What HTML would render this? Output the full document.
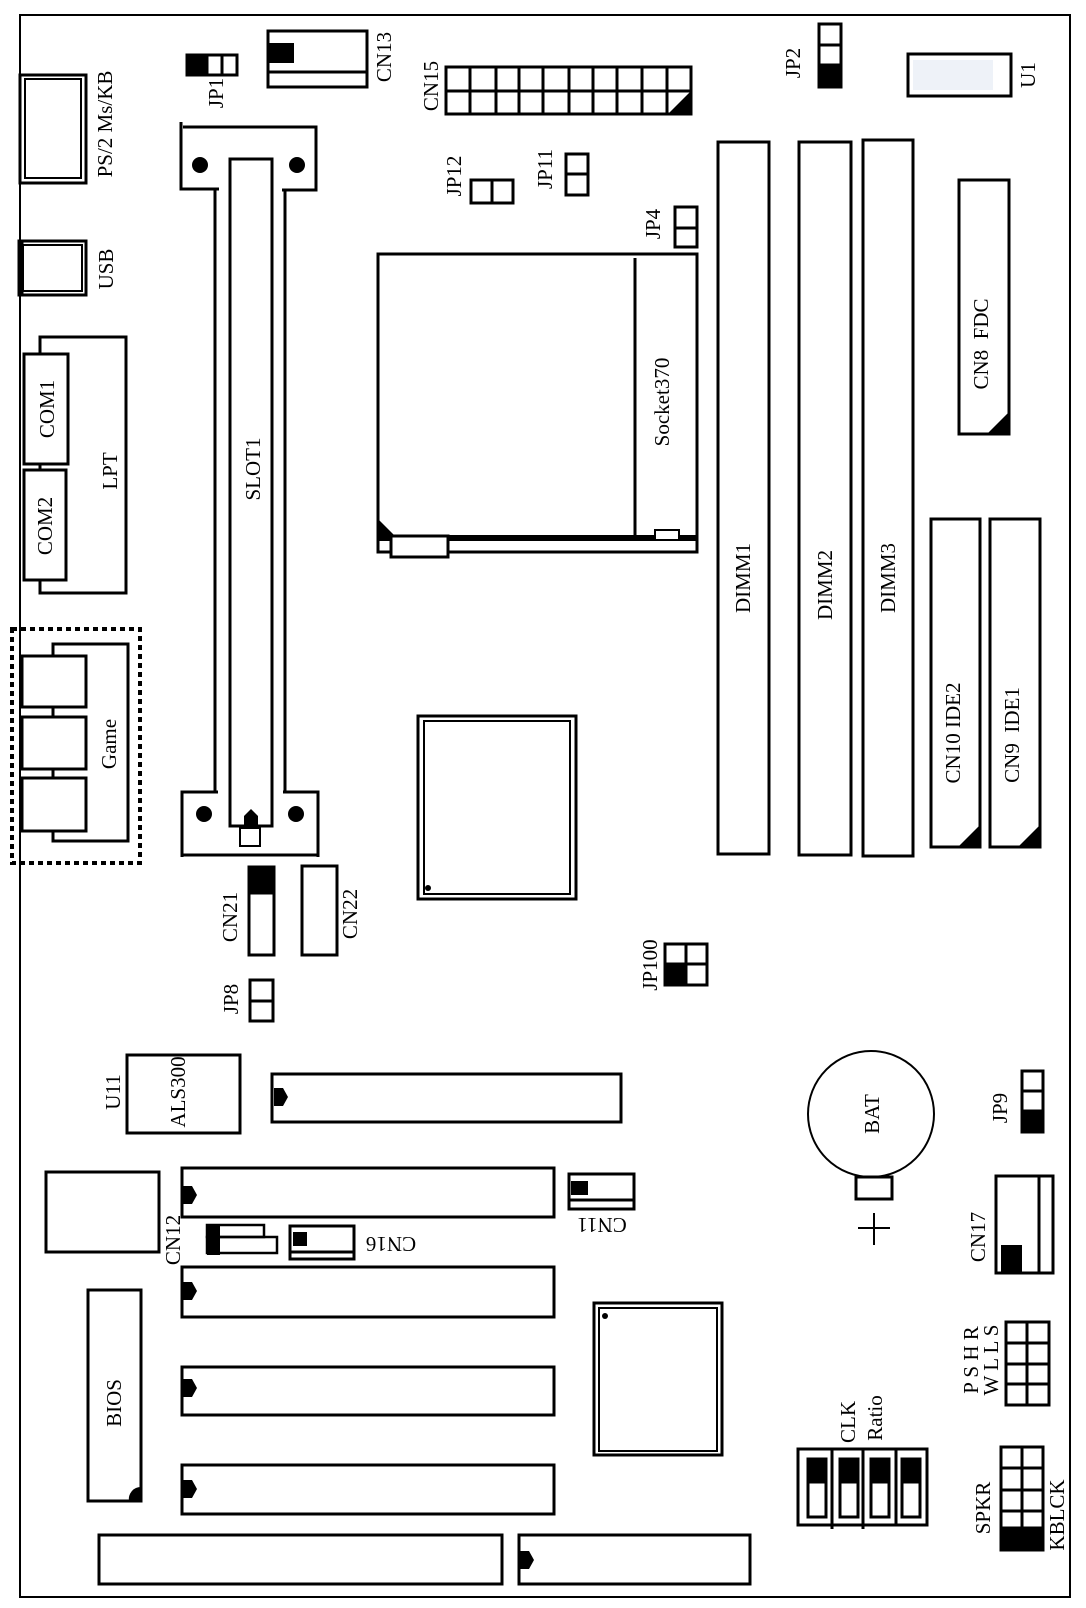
<!DOCTYPE html>
<html><head><meta charset="utf-8"><style>
html,body{margin:0;padding:0;background:#fff;}
svg{display:block;}
text{font-family:"Liberation Serif",serif;font-size:21px;fill:#000;}
</style></head><body>
<svg width="1086" height="1608" viewBox="0 0 1086 1608" xmlns="http://www.w3.org/2000/svg">
<g fill="none" stroke="#000" stroke-width="3">
<!-- board -->
<rect x="20" y="15" width="1050" height="1582" stroke-width="2"/>

<!-- JP1 -->
<rect x="187" y="55" width="50" height="20"/>
<line x1="222" y1="55" x2="222" y2="75"/>
<rect x="187" y="55" width="20" height="20" fill="#000"/>
<!-- CN13 -->
<rect x="268" y="31" width="99" height="56"/>
<line x1="268" y1="72" x2="367" y2="72"/>
<rect x="269" y="43" width="25" height="20" fill="#000" stroke="none"/>
<!-- CN15 -->
<rect x="446" y="67" width="245" height="47"/>
<line x1="446" y1="91" x2="691" y2="91"/>
<line x1="470" y1="67" x2="470" y2="114"/><line x1="496" y1="67" x2="496" y2="114"/>
<line x1="519" y1="67" x2="519" y2="114"/><line x1="543" y1="67" x2="543" y2="114"/>
<line x1="569" y1="67" x2="569" y2="114"/><line x1="593" y1="67" x2="593" y2="114"/>
<line x1="617" y1="67" x2="617" y2="114"/><line x1="642" y1="67" x2="642" y2="114"/>
<line x1="667" y1="67" x2="667" y2="114"/>
<polygon points="691,91 691,114 668,114" fill="#000" stroke="none"/>

<!-- PS/2 -->
<rect x="20" y="75" width="66" height="108"/>
<rect x="25" y="79" width="56" height="99" stroke-width="2"/>
<!-- USB -->
<rect x="19" y="241" width="67" height="54"/>
<rect x="23" y="245" width="59" height="46" stroke-width="2"/>
<line x1="21" y1="241" x2="21" y2="295" stroke-width="5"/>
<!-- LPT -->
<rect x="40" y="337" width="86" height="256"/>
<rect x="24" y="354" width="44" height="110" fill="#fff"/>
<rect x="24" y="470" width="42" height="110" fill="#fff"/>

<!-- Game -->
<rect x="12" y="629" width="128" height="234" stroke-width="4" stroke-dasharray="5,4"/>
<rect x="53" y="644" width="75" height="197"/>
<rect x="22" y="656" width="64" height="51" fill="#fff"/>
<rect x="22" y="717" width="64" height="52" fill="#fff"/>
<rect x="22" y="778" width="64" height="53" fill="#fff"/>

<!-- SLOT1 -->
<polyline points="181,122 181,189 219,189"/>
<polyline points="183,127 316,127 316,190 282,190"/>
<line x1="215" y1="189" x2="215" y2="792"/>
<line x1="285" y1="190" x2="285" y2="792"/>
<rect x="230" y="159" width="42" height="667"/>
<polyline points="218,792 182,792 182,857"/>
<polyline points="283,792 318,792 318,857"/>
<line x1="182" y1="855" x2="318" y2="855"/>
<rect x="240" y="828" width="20" height="18" stroke-width="2"/>
<polygon points="244,826 244,816 251,809 258,816 258,826" fill="#000" stroke="none"/>
<circle cx="200" cy="165" r="8" fill="#000" stroke="none"/>
<circle cx="297" cy="165" r="8" fill="#000" stroke="none"/>
<circle cx="204" cy="814" r="8" fill="#000" stroke="none"/>
<circle cx="296" cy="814" r="8" fill="#000" stroke="none"/>

<!-- JP12, JP11, JP4, JP2 -->
<rect x="471" y="180" width="42" height="23"/><line x1="492" y1="180" x2="492" y2="203"/>
<rect x="566" y="154" width="22" height="41"/><line x1="566" y1="174" x2="588" y2="174"/>
<rect x="675" y="207" width="22" height="40"/><line x1="675" y1="228" x2="697" y2="228"/>
<rect x="819" y="24" width="22" height="63"/><line x1="819" y1="45" x2="841" y2="45"/>
<rect x="819" y="65" width="22" height="22" fill="#000"/>
<!-- U1 -->
<rect x="908" y="54" width="103" height="42"/>
<rect x="913" y="60" width="80" height="30" fill="#eef2f8" stroke="none"/>

<!-- CPU socket -->
<rect x="378" y="254" width="319" height="298"/>
<line x1="635" y1="258" x2="635" y2="538"/>
<rect x="378" y="535" width="319" height="6" fill="#000" stroke="none"/>
<rect x="391" y="536" width="57" height="21" fill="#fff"/>
<rect x="655" y="530" width="24" height="10" fill="#fff" stroke-width="2"/>
<polygon points="378,519 395,536 378,536" fill="#000" stroke="none"/>

<!-- DIMMs -->
<rect x="718" y="142" width="51" height="712"/>
<rect x="799" y="142" width="52" height="713"/>
<rect x="863" y="140" width="50" height="716"/>
<!-- CN8 -->
<rect x="959" y="180" width="50" height="254"/>
<polygon points="1009,412 1009,434 987,434" fill="#000" stroke="none"/>
<!-- IDE -->
<rect x="931" y="519" width="49" height="328"/>
<polygon points="980,825 980,847 958,847" fill="#000" stroke="none"/>
<rect x="990" y="519" width="50" height="328"/>
<polygon points="1040,825 1040,847 1018,847" fill="#000" stroke="none"/>

<!-- Northbridge -->
<rect x="418" y="716" width="158" height="183"/>
<rect x="424" y="721" width="146" height="173" stroke-width="2"/>
<circle cx="428" cy="888" r="3" fill="#000" stroke="none"/>

<!-- CN21 CN22 JP8 -->
<rect x="249" y="867" width="25" height="88"/>
<rect x="249" y="867" width="25" height="26" fill="#000"/>
<rect x="302" y="866" width="35" height="89"/>
<rect x="250" y="980" width="23" height="41"/><line x1="250" y1="1001" x2="273" y2="1001"/>

<!-- JP100 -->
<rect x="665" y="944" width="42" height="41"/>
<line x1="686" y1="944" x2="686" y2="985"/><line x1="665" y1="964" x2="707" y2="964"/>
<rect x="665" y="964" width="21" height="21" fill="#000"/>

<!-- ALS300, chip -->
<rect x="127" y="1055" width="113" height="78"/>
<rect x="46" y="1172" width="113" height="80"/>

<!-- AGP slot -->
<rect x="272" y="1074" width="349" height="48"/>
<!-- PCI slots -->
<rect x="182" y="1168" width="372" height="49"/>
<rect x="182" y="1267" width="372" height="50"/>
<rect x="182" y="1367" width="372" height="48"/>
<rect x="182" y="1465" width="372" height="49"/>
<!-- ISA -->
<rect x="99" y="1535" width="403" height="49"/>
<rect x="519" y="1535" width="231" height="49"/>
</g>
<!-- keys -->
<g fill="#000">
<polygon points="274,1088 283,1088 288,1097 283,1106 274,1106"/>
<polygon points="183,1186 192,1186 197,1195 192,1204 183,1204"/>
<polygon points="183,1282 192,1282 197,1291 192,1300 183,1300"/>
<polygon points="183,1379 192,1379 197,1388 192,1397 183,1397"/>
<polygon points="183,1480 192,1480 197,1489 192,1498 183,1498"/>
<polygon points="520,1551 529,1551 534,1560 529,1569 520,1569"/>
</g>

<g fill="none" stroke="#000" stroke-width="3">
<!-- CN12 -->
<rect x="207" y="1225" width="57" height="12" stroke-width="2.5"/>
<rect x="207" y="1237" width="70" height="16" stroke-width="2.5"/>
<rect x="207" y="1224" width="13" height="31" fill="#000" stroke="none"/>
<!-- CN16 -->
<rect x="290" y="1226" width="64" height="33"/>
<line x1="290" y1="1252" x2="354" y2="1252"/>
<rect x="293" y="1232" width="14" height="14" fill="#000" stroke="none"/>
<!-- CN11 -->
<rect x="569" y="1174" width="65" height="35"/>
<line x1="569" y1="1200" x2="634" y2="1200"/>
<rect x="571" y="1181" width="17" height="14" fill="#000" stroke="none"/>

<!-- BIOS -->
<rect x="88" y="1290" width="53" height="211"/>
<path d="M141,1487 A12,12 0 0 0 129,1501 L141,1501 Z" fill="#000" stroke="none"/>

<!-- Southbridge -->
<rect x="594" y="1303" width="128" height="152"/>
<rect x="599" y="1308" width="118" height="143" stroke-width="2"/>
<circle cx="605" cy="1316" r="3" fill="#000" stroke="none"/>

<!-- BAT -->
<circle cx="871" cy="1114" r="63" stroke-width="2"/>
<rect x="856" y="1177" width="36" height="22" fill="#fff"/>
<line x1="858" y1="1228" x2="890" y2="1228" stroke-width="2"/>
<line x1="874" y1="1213" x2="874" y2="1245" stroke-width="2"/>

<!-- JP9 -->
<rect x="1022" y="1071" width="21" height="61"/>
<line x1="1022" y1="1091" x2="1043" y2="1091"/>
<rect x="1022" y="1111" width="21" height="21" fill="#000"/>

<!-- CN17 -->
<rect x="996" y="1176" width="57" height="97"/>
<line x1="1039" y1="1176" x2="1039" y2="1273"/>
<rect x="1001" y="1245" width="21" height="27" fill="#000" stroke="none"/>

<!-- PW header -->
<rect x="1006" y="1322" width="43" height="83"/>
<line x1="1027" y1="1322" x2="1027" y2="1405"/>
<line x1="1006" y1="1343" x2="1049" y2="1343"/>
<line x1="1006" y1="1364" x2="1049" y2="1364"/>
<line x1="1006" y1="1384" x2="1049" y2="1384"/>

<!-- DIP CLK/Ratio -->
<rect x="798" y="1449" width="129" height="76"/>
<line x1="832" y1="1449" x2="832" y2="1529"/>
<line x1="863" y1="1449" x2="863" y2="1529"/>
<line x1="896" y1="1449" x2="896" y2="1525"/>
<rect x="808" y="1459" width="18" height="58"/><rect x="808" y="1459" width="18" height="23" fill="#000"/>
<rect x="840" y="1459" width="18" height="58"/><rect x="840" y="1459" width="18" height="23" fill="#000"/>
<rect x="871" y="1459" width="18" height="58"/><rect x="871" y="1459" width="18" height="23" fill="#000"/>
<rect x="902" y="1459" width="18" height="58"/><rect x="902" y="1459" width="18" height="23" fill="#000"/>

<!-- SPKR header -->
<rect x="1001" y="1447" width="42" height="103"/>
<line x1="1022" y1="1447" x2="1022" y2="1550"/>
<line x1="1001" y1="1468" x2="1043" y2="1468"/>
<line x1="1001" y1="1490" x2="1043" y2="1490"/>
<line x1="1001" y1="1511" x2="1043" y2="1511"/>
<rect x="1001" y="1528" width="42" height="22" fill="#000"/>
</g>

<!-- labels -->
<g text-anchor="middle" dominant-baseline="central">
<text transform="translate(216,93) rotate(-90)">JP1</text>
<text transform="translate(384,57) rotate(-90)">CN13</text>
<text transform="translate(431,86) rotate(-90)">CN15</text>
<text transform="translate(105,124) rotate(-90)">PS/2 Ms/KB</text>
<text transform="translate(106,269) rotate(-90)">USB</text>
<text transform="translate(47,409) rotate(-90)">COM1</text>
<text transform="translate(45,526) rotate(-90)">COM2</text>
<text transform="translate(110,471) rotate(-90)">LPT</text>
<text transform="translate(253,469) rotate(-90)">SLOT1</text>
<text transform="translate(109,744) rotate(-90)">Game</text>
<text transform="translate(454,176) rotate(-90)">JP12</text>
<text transform="translate(545,169) rotate(-90)">JP11</text>
<text transform="translate(653,224) rotate(-90)">JP4</text>
<text transform="translate(793,63) rotate(-90)">JP2</text>
<text transform="translate(1028,75) rotate(-90)">U1</text>
<text transform="translate(662,402) rotate(-90)">Socket370</text>
<text transform="translate(743,578) rotate(-90)">DIMM1</text>
<text transform="translate(825,585) rotate(-90)">DIMM2</text>
<text transform="translate(888,578) rotate(-90)">DIMM3</text>
<text transform="translate(981,344) rotate(-90)" xml:space="preserve">CN8  FDC</text>
<text transform="translate(953,733) rotate(-90)">CN10 IDE2</text>
<text transform="translate(1012,735) rotate(-90)" xml:space="preserve">CN9  IDE1</text>
<text transform="translate(230,917) rotate(-90)">CN21</text>
<text transform="translate(350,914) rotate(-90)">CN22</text>
<text transform="translate(231,999) rotate(-90)">JP8</text>
<text transform="translate(650,965) rotate(-90)">JP100</text>
<text transform="translate(113,1092) rotate(-90)">U11</text>
<text transform="translate(178,1092) rotate(-90)">ALS300</text>
<text transform="translate(872,1114) rotate(-90)">BAT</text>
<text transform="translate(1000,1108) rotate(-90)">JP9</text>
<text transform="translate(173,1240) rotate(-90)">CN12</text>
<text transform="translate(391,1244) rotate(180)">CN16</text>
<text transform="translate(602,1225) rotate(180)">CN11</text>
<text transform="translate(114,1403) rotate(-90)">BIOS</text>
<text transform="translate(978,1237) rotate(-90)">CN17</text>
<text transform="translate(971,1360) rotate(-90)" xml:space="preserve">P S H R</text>
<text transform="translate(991,1360) rotate(-90)" xml:space="preserve">W L L S</text>
<text transform="translate(848,1422) rotate(-90)">CLK</text>
<text transform="translate(875,1418) rotate(-90)">Ratio</text>
<text transform="translate(983,1508) rotate(-90)">SPKR</text>
<text transform="translate(1057,1515) rotate(-90)">KBLCK</text>
</g>
</svg>
</body></html>
